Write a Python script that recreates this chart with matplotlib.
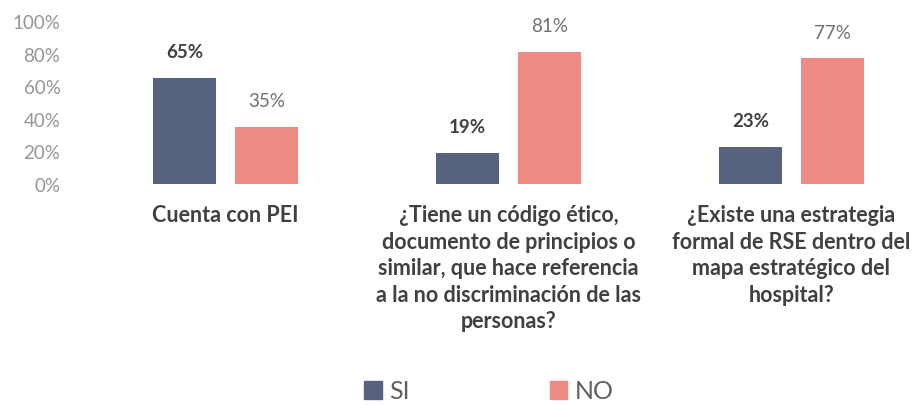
import matplotlib.pyplot as plt
from matplotlib.patches import Patch
from matplotlib.transforms import blended_transform_factory

plt.rcParams['font.family'] = ['Lato', 'DejaVu Sans']

categorias = ['Cuenta con PEI',
              '¿Tiene un código ético,\ndocumento de principios o\nsimilar, que hace referencia\na la no discriminación de las\npersonas?',
              '¿Existe una estrategia\nformal de RSE dentro del\nmapa estratégico del\nhospital?']
si = [65, 19, 23]
no = [35, 81, 77]
ticks_y = [0, 20, 40, 60, 80, 100]

color_si = '#56627e'
color_no = '#ee8b85'

fig = plt.figure(figsize=(9.14, 4.06), dpi=100)
ax = fig.add_axes([84/914, 1 - 185/406, 830/914, 163/406])

x = list(range(len(categorias)))
ancho = 0.22
desp = 0.145
ax.bar([i - desp for i in x], si, width=ancho, color=color_si)
ax.bar([i + desp for i in x], no, width=ancho, color=color_no)

for i in x:
    ax.annotate(f'{si[i]}%', (i - desp, si[i]), xytext=(0, 19), textcoords='offset points',
                ha='center', va='center', fontsize=13.5, fontweight='bold', color='#404040')
    ax.annotate(f'{no[i]}%', (i + desp, no[i]), xytext=(0, 19), textcoords='offset points',
                ha='center', va='center', fontsize=13.5, color='#707070')

ax.set_xlim(-0.5, 2.433)
ax.set_ylim(0, 100)
ax.set_yticks(ticks_y)
ax.set_yticklabels([f'{t}%' for t in ticks_y], color='#959595', fontsize=13.5)
ax.tick_params(axis='y', length=0, pad=17)
ax.set_xticks([])

trans = blended_transform_factory(ax.transData, fig.transFigure)
for i, cat in enumerate(categorias):
    fig.text(i, 1 - 205/406, cat, transform=trans, ha='center', va='top',
             fontsize=15.5, fontweight='bold', color='#404040', linespacing=1.33)

for s in ax.spines.values():
    s.set_visible(False)

handles = [Patch(color=color_si, label='SI'), Patch(color=color_no, label='NO')]
fig.legend(handles=handles, loc='center', bbox_to_anchor=(0.535, 1 - 392/406), ncol=2,
           frameon=False, fontsize=18, handlelength=0.7, handleheight=0.7,
           handletextpad=0.3, columnspacing=5.6, labelcolor='#606060')

fig.savefig('out.png', dpi=100)
